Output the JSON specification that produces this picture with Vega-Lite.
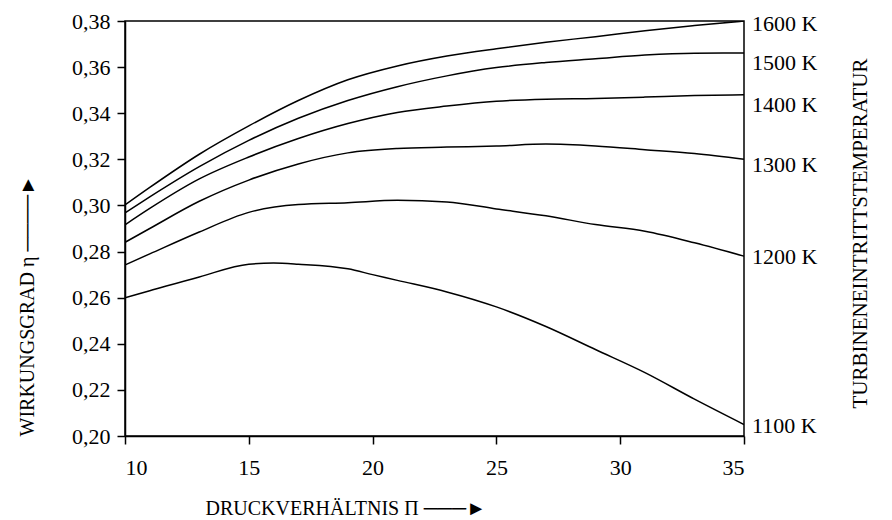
{
  "$schema": "https://vega.github.io/schema/vega-lite/v6.json",
  "width": 619,
  "height": 415,
  "autosize": {"type": "none"},
  "padding": {"left": 125, "top": 21, "right": 148, "bottom": 84},
  "background": "white",
  "config": {
    "view": {"stroke": "black", "strokeWidth": 1.5},
    "font": "Liberation Serif",
    "axis": {
      "grid": false,
      "domainColor": "black",
      "domainWidth": 1.5,
      "tickColor": "black",
      "tickWidth": 1.5,
      "tickSize": 8,
      "labelFont": "Liberation Serif",
      "labelFontSize": 22,
      "labelColor": "black",
      "titleFont": "Liberation Serif",
      "titleFontSize": 20,
      "titleFontWeight": "normal",
      "titleColor": "black"
    }
  },
  "datasets": {
    "curves": [
      {"T": "1600 K", "pi": 10, "eta": 0.3002}, {"T": "1600 K", "pi": 11, "eta": 0.3078}, {"T": "1600 K", "pi": 13, "eta": 0.3222}, {"T": "1600 K", "pi": 15, "eta": 0.3345}, {"T": "1600 K", "pi": 17, "eta": 0.3455}, {"T": "1600 K", "pi": 19, "eta": 0.3545}, {"T": "1600 K", "pi": 21, "eta": 0.3605}, {"T": "1600 K", "pi": 23, "eta": 0.3648}, {"T": "1600 K", "pi": 25, "eta": 0.3680}, {"T": "1600 K", "pi": 27, "eta": 0.3708}, {"T": "1600 K", "pi": 29, "eta": 0.3732}, {"T": "1600 K", "pi": 31, "eta": 0.3758}, {"T": "1600 K", "pi": 33, "eta": 0.3780}, {"T": "1600 K", "pi": 35, "eta": 0.3800},
      {"T": "1500 K", "pi": 10, "eta": 0.2968}, {"T": "1500 K", "pi": 11, "eta": 0.3037}, {"T": "1500 K", "pi": 13, "eta": 0.3168}, {"T": "1500 K", "pi": 15, "eta": 0.3282}, {"T": "1500 K", "pi": 17, "eta": 0.3378}, {"T": "1500 K", "pi": 19, "eta": 0.3455}, {"T": "1500 K", "pi": 21, "eta": 0.3515}, {"T": "1500 K", "pi": 23, "eta": 0.3562}, {"T": "1500 K", "pi": 25, "eta": 0.3598}, {"T": "1500 K", "pi": 27, "eta": 0.3620}, {"T": "1500 K", "pi": 29, "eta": 0.3636}, {"T": "1500 K", "pi": 31, "eta": 0.3652}, {"T": "1500 K", "pi": 33, "eta": 0.3660}, {"T": "1500 K", "pi": 35, "eta": 0.3661},
      {"T": "1400 K", "pi": 10, "eta": 0.2916}, {"T": "1400 K", "pi": 11, "eta": 0.2987}, {"T": "1400 K", "pi": 13, "eta": 0.3115}, {"T": "1400 K", "pi": 15, "eta": 0.3210}, {"T": "1400 K", "pi": 17, "eta": 0.3290}, {"T": "1400 K", "pi": 19, "eta": 0.3355}, {"T": "1400 K", "pi": 21, "eta": 0.3403}, {"T": "1400 K", "pi": 23, "eta": 0.3431}, {"T": "1400 K", "pi": 25, "eta": 0.3452}, {"T": "1400 K", "pi": 27, "eta": 0.3461}, {"T": "1400 K", "pi": 29, "eta": 0.3464}, {"T": "1400 K", "pi": 31, "eta": 0.3470}, {"T": "1400 K", "pi": 33, "eta": 0.3477}, {"T": "1400 K", "pi": 35, "eta": 0.3480},
      {"T": "1300 K", "pi": 10, "eta": 0.2840}, {"T": "1300 K", "pi": 11, "eta": 0.2900}, {"T": "1300 K", "pi": 13, "eta": 0.3018}, {"T": "1300 K", "pi": 15, "eta": 0.3110}, {"T": "1300 K", "pi": 17, "eta": 0.3180}, {"T": "1300 K", "pi": 19, "eta": 0.3228}, {"T": "1300 K", "pi": 21, "eta": 0.3247}, {"T": "1300 K", "pi": 23, "eta": 0.3253}, {"T": "1300 K", "pi": 25, "eta": 0.3258}, {"T": "1300 K", "pi": 27, "eta": 0.3266}, {"T": "1300 K", "pi": 29, "eta": 0.3258}, {"T": "1300 K", "pi": 31, "eta": 0.3242}, {"T": "1300 K", "pi": 33, "eta": 0.3225}, {"T": "1300 K", "pi": 35, "eta": 0.3200},
      {"T": "1200 K", "pi": 10, "eta": 0.2742}, {"T": "1200 K", "pi": 11, "eta": 0.2790}, {"T": "1200 K", "pi": 13, "eta": 0.2885}, {"T": "1200 K", "pi": 15, "eta": 0.2970}, {"T": "1200 K", "pi": 17, "eta": 0.3004}, {"T": "1200 K", "pi": 19, "eta": 0.3012}, {"T": "1200 K", "pi": 21, "eta": 0.3022}, {"T": "1200 K", "pi": 23, "eta": 0.3015}, {"T": "1200 K", "pi": 25, "eta": 0.2985}, {"T": "1200 K", "pi": 27, "eta": 0.2955}, {"T": "1200 K", "pi": 29, "eta": 0.2917}, {"T": "1200 K", "pi": 31, "eta": 0.2888}, {"T": "1200 K", "pi": 33, "eta": 0.2838}, {"T": "1200 K", "pi": 35, "eta": 0.2780},
      {"T": "1100 K", "pi": 10, "eta": 0.2600}, {"T": "1100 K", "pi": 11, "eta": 0.2630}, {"T": "1100 K", "pi": 13, "eta": 0.2690}, {"T": "1100 K", "pi": 15, "eta": 0.2745}, {"T": "1100 K", "pi": 16, "eta": 0.2750}, {"T": "1100 K", "pi": 17, "eta": 0.2745}, {"T": "1100 K", "pi": 19, "eta": 0.2725}, {"T": "1100 K", "pi": 20, "eta": 0.2700}, {"T": "1100 K", "pi": 21, "eta": 0.2675}, {"T": "1100 K", "pi": 23, "eta": 0.2625}, {"T": "1100 K", "pi": 25, "eta": 0.2560}, {"T": "1100 K", "pi": 27, "eta": 0.2475}, {"T": "1100 K", "pi": 29, "eta": 0.2375}, {"T": "1100 K", "pi": 31, "eta": 0.2275}, {"T": "1100 K", "pi": 33, "eta": 0.2160}, {"T": "1100 K", "pi": 35, "eta": 0.2050}
    ],
    "labels": [
      {"T": "1600 K", "pi": 35, "eta": 0.3789},
      {"T": "1500 K", "pi": 35, "eta": 0.3616},
      {"T": "1400 K", "pi": 35, "eta": 0.3435},
      {"T": "1300 K", "pi": 35, "eta": 0.3175},
      {"T": "1200 K", "pi": 35, "eta": 0.2776},
      {"T": "1100 K", "pi": 35, "eta": 0.2042}
    ]
  },
  "layer": [
    {
      "data": {"name": "curves"},
      "mark": {"type": "line", "color": "black", "strokeWidth": 1.5, "interpolate": "monotone", "clip": true},
      "encoding": {
        "x": {
          "field": "pi", "type": "quantitative",
          "scale": {"domain": [10, 35], "nice": false, "zero": false},
          "axis": {
            "values": [10, 15, 20, 25, 30, 35],
            "labelPadding": 13,
            "title": "DRUCKVERHÄLTNIS Π ───►",
            "titleX": 80, "titleAlign": "left", "titleY": 78, "titleBaseline": "alphabetic"
          }
        },
        "y": {
          "field": "eta", "type": "quantitative",
          "scale": {"domain": [0.2, 0.38], "nice": false, "zero": false},
          "axis": {
            "orient": "left",
            "values": [0.2, 0.22, 0.24, 0.26, 0.28, 0.3, 0.32, 0.34, 0.36, 0.38],
            "labelExpr": "replace(format(datum.value, '.2f'), '.', ',')",
            "labelPadding": 7,
            "title": "WIRKUNGSGRAD η ────►",
            "titleAngle": -90,
            "titleX": -92, "titleY": 415, "titleAlign": "left", "titleBaseline": "alphabetic"
          }
        },
        "detail": {"field": "T"}
      }
    },
    {
      "data": {"name": "labels"},
      "mark": {"type": "text", "align": "left", "baseline": "middle", "dx": 8, "fontSize": 22, "font": "Liberation Serif", "color": "black", "clip": false},
      "encoding": {
        "x": {"field": "pi", "type": "quantitative"},
        "y": {
          "field": "eta", "type": "quantitative",
          "axis": {
            "orient": "right",
            "labels": false, "ticks": false, "domain": false,
            "title": "TURBINENEINTRITTSTEMPERATUR",
            "titleAngle": -90,
            "titleFontSize": 21,
            "titleX": 122, "titleY": 212, "titleAlign": "center", "titleBaseline": "alphabetic"
          }
        },
        "text": {"field": "T"}
      }
    }
  ],
  "resolve": {"axis": {"y": "independent"}}
}
